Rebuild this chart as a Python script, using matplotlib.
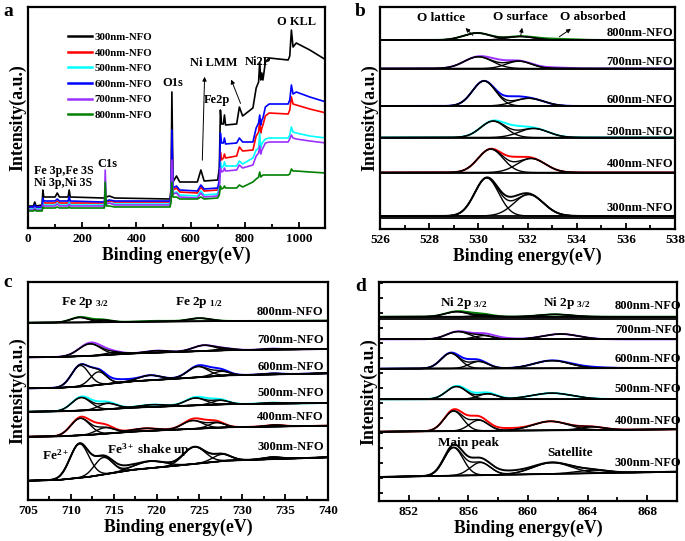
import numpy as np
import matplotlib
matplotlib.use("Agg")
import matplotlib.pyplot as plt
from matplotlib.ticker import MultipleLocator

plt.rcParams['font.family'] = ['Liberation Serif', 'DejaVu Serif']
plt.rcParams['font.weight'] = 'bold'
plt.rcParams['axes.labelweight'] = 'bold'
plt.rcParams['mathtext.fontset'] = 'custom'
plt.rcParams['mathtext.rm'] = 'Liberation Serif:bold'
plt.rcParams['mathtext.it'] = 'Liberation Serif:bold'
plt.rcParams['mathtext.default'] = 'rm'

samples = ['300nm-NFO', '400nm-NFO', '500nm-NFO', '600nm-NFO', '700nm-NFO', '800nm-NFO']
colors = ['black', 'red', 'cyan', 'blue', '#9b30ff', 'green']

# ---- panel a: survey spectra (a.u.)
survey_e = [0, 20, 25, 30, 52, 55, 58, 100, 108, 116, 148, 152, 156, 278, 282, 285, 289, 300, 320,
            524, 528, 531, 535, 548, 560, 625, 638, 650, 700, 706, 710, 714, 721, 725, 729,
            770, 780, 792, 830, 842, 851, 855, 859, 863, 867, 876, 890, 960, 966, 972, 978,
            990, 1040, 1100]
survey_300 = [22, 22, 26, 22, 23, 38, 31, 31, 35, 31, 31, 38, 31, 30, 30, 34, 31, 32, 30,
              29, 40, 136, 46, 52, 46, 46, 58, 47, 48, 60, 118, 104, 104, 113, 103,
              104, 121, 112, 120, 140, 146, 166, 148, 155, 148, 166, 170, 168, 172, 198, 181,
              185, 178, 168]
survey_400 = [20, 20, 22, 20, 20, 27, 25, 25, 27, 25, 25, 28, 25, 25, 25, 30, 26, 27, 26,
              26, 33, 90, 38, 40, 36, 35, 41, 37, 38, 45, 76, 68, 70, 74, 70,
              72, 81, 77, 78, 92, 96, 108, 95, 100, 103, 112, 115, 114, 118, 131, 124,
              123, 119, 115]
survey_500 = [19, 19, 21, 19, 19, 25, 23, 23, 25, 23, 23, 26, 23, 23, 23, 28, 24, 25, 24,
              24, 30, 75, 35, 36, 33, 32, 37, 33, 34, 42, 66, 60, 62, 66, 62,
              62, 67, 64, 70, 78, 80, 95, 80, 84, 86, 89, 90, 90, 93, 101, 96,
              95, 92, 90]
survey_600 = [21, 21, 23, 21, 21, 30, 27, 27, 29, 27, 27, 31, 27, 26, 26, 32, 27, 28, 27,
              27, 35, 98, 40, 42, 38, 37, 43, 39, 40, 48, 95, 85, 85, 90, 84,
              85, 90, 86, 86, 100, 105, 113, 103, 108, 110, 121, 124, 124, 128, 143, 134,
              136, 131, 126]
survey_700 = [18, 18, 20, 18, 18, 23, 22, 22, 24, 22, 22, 24, 22, 22, 22, 58, 24, 25, 23,
              23, 30, 68, 34, 35, 31, 30, 35, 31, 32, 38, 60, 56, 57, 60, 57,
              58, 63, 60, 63, 72, 75, 82, 74, 78, 80, 85, 86, 86, 89, 93, 90,
              89, 87, 85]
survey_800 = [17, 17, 18, 17, 17, 21, 20, 20, 21, 20, 20, 21, 20, 20, 20, 46, 22, 22, 21,
              21, 26, 46, 31, 31, 29, 29, 31, 29, 30, 33, 42, 39, 40, 42, 40,
              40, 43, 41, 46, 49, 51, 56, 51, 52, 53, 53, 53, 53, 54, 59, 57,
              57, 56, 55]
survey = [survey_300, survey_400, survey_500, survey_600, survey_700, survey_800]

# ---- panel b: O 1s, peaks (centre eV, height, fwhm)
o1s_base = [13, 56.5, 91.5, 123, 160.5, 189]
o1s_fit = [
    [(530.34, 38, 1.15), (532.05, 21.5, 1.4)],
    [(530.50, 23.3, 1.2), (532.15, 14, 1.35)],
    [(530.60, 16.3, 1.2), (532.25, 9, 1.4)],
    [(530.23, 25, 1.1), (532.05, 7.7, 1.4)],
    [(530.00, 11.7, 1.35), (531.65, 7.3, 1.2)],
    [(529.95, 7, 1.3), (531.70, 3.5, 1.3)],
]
o1s_rest = [
    [(531.35, 4, 1.0)],
    [(531.45, 5, 0.9)],
    [(531.5, 4.5, 1.0)],
    [(531.35, 4.5, 0.9)],
    [(530.8, 3, 1.0), (533.0, 1, 1.5)],
    [(533.0, 1.2, 1.8)],
]

# ---- panel c: Fe 2p
fe_bg_e = [705, 708.5, 712, 717, 722, 728, 740]
fe_bg = [
    [19.3, 20, 23, 30, 34, 39.3, 42.7],
    [63.3, 63.6, 65, 68.3, 70.2, 72.7, 74.3],
    [88.3, 88.6, 89.7, 92.3, 93.8, 95.8, 97],
    [111.7, 112.1, 114, 118.6, 121.1, 124.6, 126.7],
    [142.7, 143, 144, 146.5, 147.9, 149.8, 151],
    [177.3, 177.4, 177.6, 178.2, 178.6, 179, 179.3],
]
fe_fit = [
    [(711.0, 34, 2.6), (713.8, 17, 2.5), (719.2, 7, 4), (724.4, 17, 3), (727.6, 6.7, 2.5), (733.5, 2, 2.5)],
    [(711.1, 17, 2.6), (714.0, 6, 2.5), (718.6, 2.7, 3.5), (724.2, 8.3, 2.8), (727.0, 5, 2.2), (733.8, 1.5, 2.5)],
    [(711.2, 13, 2.6), (714.3, 5.7, 2.5), (719.5, 2.3, 3.5), (724.5, 7.3, 2.8), (727.4, 4, 2.3), (733.5, 1, 2.5)],
    [(711.1, 21, 2.4), (713.2, 13, 2.2), (719.2, 5, 3), (724.8, 10.7, 2.8), (727.5, 4.3, 2.3), (733.5, 1, 2.5)],
    [(712.2, 12, 3), (715.0, 2, 2.5), (720.0, 2, 3), (725.5, 5.7, 3), (728.0, 1.5, 2.5), (733.5, 1, 2.5)],
    [(711.0, 5, 2.5), (713.8, 2, 2.2), (725.0, 3, 3)],
]
fe_rest = [
    [(716.0, 3, 3)],
    [(713.0, 4, 3), (725.5, 3, 3)],
    [(713.0, 2.5, 3), (726.0, 2, 3)],
    [(715.5, 3, 3), (726.5, 2.5, 3)],
    [(713.5, 2, 3)],
    [(712.5, 1, 3), (720.0, 0.7, 4)],
]

# ---- panel d: Ni 2p
ni_bg_e = [850, 870]
ni_bg = [[24, 29.3], [69.3, 71.7], [101.7, 102], [132.3, 133], [161.7, 161.7], [184.3, 184.3]]
ni_fit = [
    [(855.0, 28, 1.5), (856.8, 12.7, 1.6), (861.6, 11.3, 3), (864.3, 3, 2.5)],
    [(855.0, 20, 1.5), (856.7, 10.7, 1.5), (861.5, 9, 2.8), (864.3, 3, 2)],
    [(855.2, 12.7, 1.6), (857.3, 5.3, 1.5), (861.6, 6, 3.2)],
    [(854.8, 15.3, 1.5), (856.7, 7, 1.5), (861.6, 7.7, 2.8)],
    [(855.3, 7.7, 1.8), (857.0, 3.7, 1.5), (862.2, 5.3, 2.8)],
    [(855.2, 5, 1.8), (857.0, 1.5, 1.5), (861.8, 2.3, 2.5)],
]
ni_rest = [
    [(856.0, 4, 2.5), (858.5, 3, 3)],
    [(856.2, 4, 2), (858.5, 2, 2)],
    [(856.5, 2, 2)],
    [(856.0, 3, 1.5), (864.0, 1, 3)],
    [(857.5, 2, 2.5)],
    [(856.5, 1.5, 2)],
]

W, H = 685, 541
fig = plt.figure(figsize=(W / 100, H / 100), dpi=100)


def box(l, t, r, b):
    ax = fig.add_axes([l / W, 1 - b / H, (r - l) / W, (b - t) / H])
    for s in ax.spines.values():
        s.set_linewidth(1.6)
    ax.tick_params(axis='both', which='both', direction='in', top=False, right=False,
                   labelsize=9.5, width=1.3)
    ax.tick_params(which='major', length=4)
    ax.tick_params(which='minor', length=3)
    ax.set_yticks([])
    ax.set_xlabel('Binding energy(eV)', fontsize=12.8, labelpad=1)
    ax.set_ylabel('Intensity(a.u.)', fontsize=12.8, labelpad=1)
    return ax


def gauss(x, c, h, w):
    return h * np.exp(-4 * np.log(2) * (x - c) ** 2 / w ** 2)


def stack(ax, x, bgs, fits, rests):
    for i in range(6):
        bg = bgs[i]
        fsum = sum(gauss(x, *p) for p in fits[i])
        data = bg + fsum + sum(gauss(x, *p) for p in rests[i])
        ax.plot(x, data, color=colors[i], lw=1.4, zorder=2)
        ax.plot(x, bg, color='k', lw=1.3, zorder=3)
        for p in fits[i]:
            ax.plot(x, bg + gauss(x, *p), color='k', lw=1.0, zorder=3)
        ax.plot(x, bg + fsum, color='k', lw=1.0, zorder=3)


# panel a
axa = box(28, 7, 325, 228)
for i in range(6):
    axa.plot(survey_e, survey[i], color=colors[i], lw=1.2, label=samples[i])
axa.set_xlim(0, 1096)
axa.set_ylim(0, 221)
axa.xaxis.set_major_locator(MultipleLocator(200))
axa.xaxis.set_minor_locator(MultipleLocator(100))
leg = axa.legend(loc='upper left', bbox_to_anchor=(0.115, 0.91), frameon=False, fontsize=7.8,
                 handlelength=2.3, handletextpad=0.2, labelspacing=0.56, borderpad=0)
for h in leg.get_lines():
    h.set_linewidth(1.8)
fs = 9
axa.text(989, 206, 'O KLL', ha='center', va='center', fontsize=fs)
axa.text(847, 166, 'Ni2P', ha='center', va='center', fontsize=fs)
axa.text(686, 165, 'Ni LMM', ha='center', va='center', fontsize=fs)
axa.text(696, 128, 'Fe2p', ha='center', va='center', fontsize=fs)
axa.text(534, 145, 'O1s', ha='center', va='center', fontsize=fs)
axa.text(294, 64, 'C1s', ha='center', va='center', fontsize=fs)
axa.text(131, 57, 'Fe 3p,Fe 3S', ha='center', va='center', fontsize=8.6)
axa.text(131, 45, 'Ni 3p,Ni 3S', ha='center', va='center', fontsize=8.6)
arr = dict(arrowstyle='-|>', color='k', lw=0.7, mutation_scale=6)
axa.annotate('', xy=(652, 154), xytext=(643, 65), arrowprops=arr)
axa.annotate('', xy=(746, 151), xytext=(788, 122), arrowprops=arr)

# panel b
axb = box(380, 7, 675, 229)
xb = np.linspace(526, 538, 800)
stack(axb, xb, [np.full_like(xb, v) for v in o1s_base], o1s_fit, o1s_rest)
axb.axhline(10.7, color='k', lw=1.3)
axb.set_xlim(526, 538)
axb.set_ylim(0, 222)
axb.xaxis.set_major_locator(MultipleLocator(2))
axb.xaxis.set_minor_locator(MultipleLocator(1))
for i, yv in enumerate([20.7, 65, 97.3, 129, 167.3, 195.7]):
    axb.text(537.92, yv, samples[i], ha='right', va='center', fontsize=9)
fs = 9.5
axb.text(528.5, 211, 'O lattice', ha='center', va='center', fontsize=fs)
axb.text(531.7, 212.3, 'O surface', ha='center', va='center', fontsize=fs)
axb.text(534.67, 211.7, 'O absorbed', ha='center', va='center', fontsize=fs)
axb.annotate('', xy=(529.4, 203), xytext=(529.86, 191.7), arrowprops=arr)
axb.annotate('', xy=(531.8, 204), xytext=(531.7, 189.7), arrowprops=arr)
axb.annotate('', xy=(533.86, 201.7), xytext=(533.2, 190.7), arrowprops=arr)

# panel c
axc = box(28, 282, 328, 500)
xc = np.linspace(705, 740, 800)
stack(axc, xc, [np.interp(xc, fe_bg_e, b) for b in fe_bg], fe_fit, fe_rest)
axc.set_xlim(705, 740)
axc.set_ylim(0, 218)
axc.xaxis.set_major_locator(MultipleLocator(5))
axc.xaxis.set_minor_locator(MultipleLocator(2.5))
for i, yv in enumerate([53.3, 83.3, 107.3, 133.3, 160, 188]):
    axc.text(739.5, yv, samples[i], ha='right', va='center', fontsize=9)
axc.text(711.7, 198, r'Fe 2p $_{3/2}$', ha='center', va='center', fontsize=9.5)
axc.text(725, 198, r'Fe 2p $_{1/2}$', ha='center', va='center', fontsize=9.5)
axc.text(708.2, 45, r'Fe$^{2+}$', ha='center', va='center', fontsize=9.5)
axc.text(714.2, 50, r'Fe$^{3+}$ shake up', ha='left', va='center', fontsize=9.5)

# panel d
axd = box(379, 282, 677, 501)
xd = np.linspace(850, 870, 800)
stack(axd, xd, [np.interp(xd, ni_bg_e, b) for b in ni_bg], ni_fit, ni_rest)
axd.axhline(181.7, color='k', lw=1.3)
axd.set_xlim(850, 870)
axd.set_ylim(0, 219)
axd.set_xticks([852, 856, 860, 864, 868])
axd.xaxis.set_minor_locator(MultipleLocator(2))
axd.set_yticks(np.arange(7.7, 219, 15))
axd.tick_params(axis='y', labelleft=False, length=3)
for i, yv in enumerate([38.3, 80.3, 111.7, 141.7, 171, 195]):
    axd.text(870.3, yv, samples[i], ha='right', va='center', fontsize=9)
axd.text(855.7, 197.7, r'Ni 2p $_{3/2}$', ha='center', va='center', fontsize=9.5)
axd.text(862.6, 197.7, r'Ni 2p $_{3/2}$', ha='center', va='center', fontsize=9.5)
axd.text(856.0, 57.7, 'Main peak', ha='center', va='center', fontsize=9.5)
axd.text(862.8, 48.3, 'Satellite', ha='center', va='center', fontsize=9.5)

for lab, xx, yy in [('a', 3, 3), ('b', 355, 3), ('c', 3, 274), ('d', 355, 278)]:
    fig.text(xx / W, 1 - yy / H, lab, ha='left', va='top', fontsize=14)

fig.savefig('out.png', dpi=100)
